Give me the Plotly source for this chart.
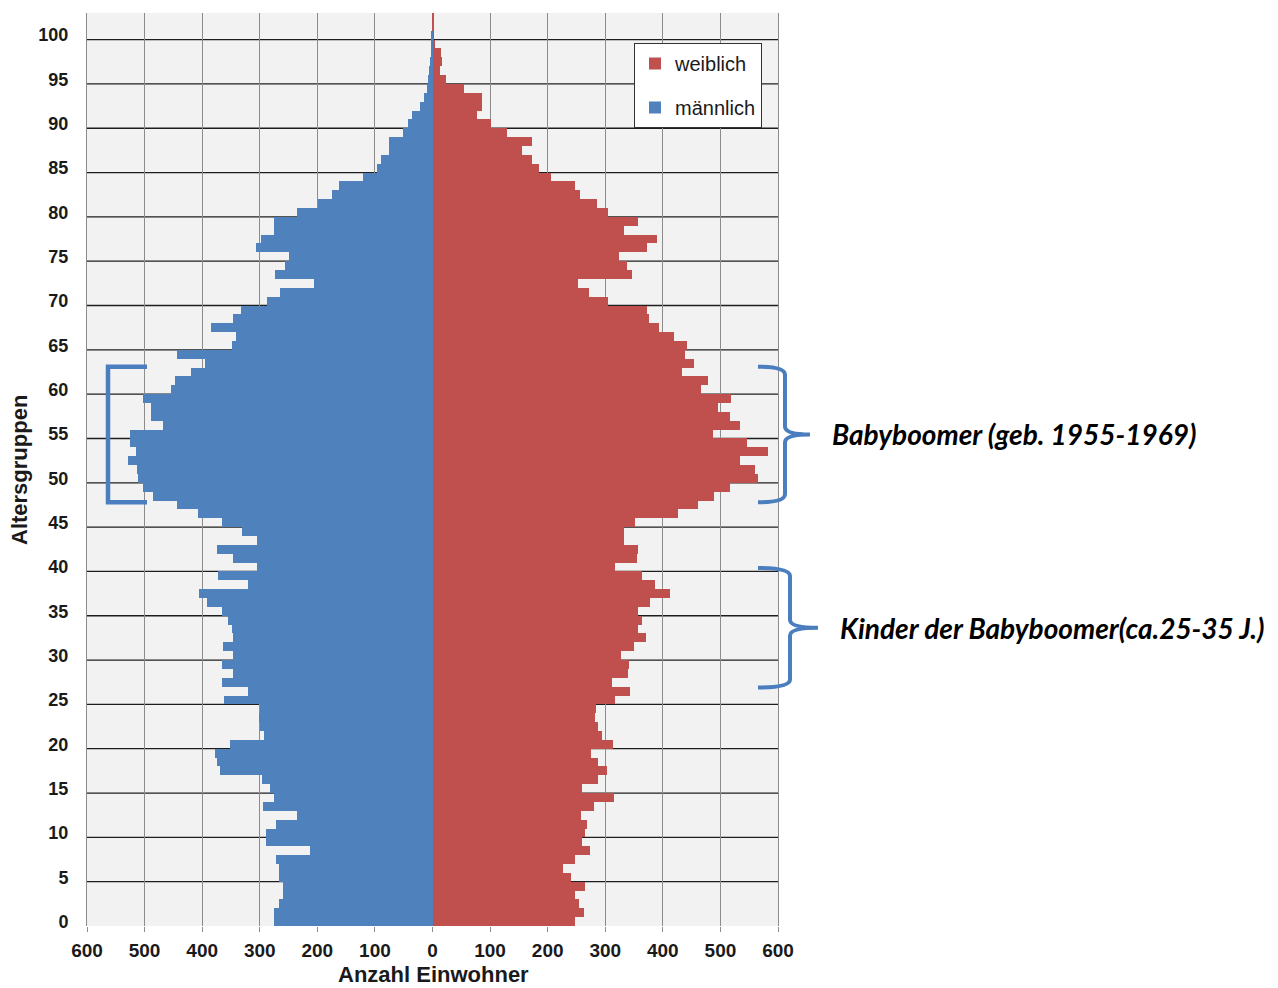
import plotly.graph_objects as go

# ---------------- data ----------------
ages = list(range(0, 103))

male = [276, 276, 266, 259, 259, 266, 266, 271, 212, 290,
        290, 271, 236, 295, 275, 283, 296, 369, 374, 378,
        351, 292, 300, 302, 300, 362, 321, 365, 346, 365,
        346, 364, 346, 349, 356, 365, 391, 405, 320, 373,
        304, 347, 375, 304, 330, 365, 407, 444, 485, 502,
        511, 513, 528, 515, 525, 526, 468, 489, 489, 503,
        455, 448, 419, 395, 443, 349, 342, 385, 346, 332,
        287, 264, 205, 274, 257, 249, 307, 297, 276, 276,
        235, 199, 175, 163, 120, 97, 89, 75, 75, 52,
        42, 36, 21, 15, 10, 7, 6, 4, 3, 1,
        1, 0, 0]

female = [248, 263, 254, 248, 265, 241, 226, 248, 274, 260,
          265, 268, 258, 280, 316, 260, 288, 303, 287, 276,
          314, 295, 287, 282, 284, 317, 343, 312, 339, 341,
          328, 350, 370, 356, 363, 356, 378, 413, 387, 363,
          317, 355, 356, 332, 333, 351, 427, 461, 488, 517,
          566, 560, 534, 583, 547, 487, 534, 517, 496, 519,
          466, 478, 434, 454, 438, 442, 419, 393, 376, 373,
          304, 272, 252, 347, 338, 324, 373, 389, 333, 356,
          304, 285, 256, 248, 206, 185, 173, 155, 173, 130,
          101, 78, 86, 86, 55, 23, 13, 16, 14, 4,
          3, 3, 3]

x_ticks = [-600, -500, -400, -300, -200, -100, 0, 100, 200, 300, 400, 500, 600]
y_ticks = list(range(0, 101, 5))

# annotation brackets: (age from, age to, label)
boomer_span = (47.3, 62.6)
kinder_span = (26.4, 39.9)
boomer_label = "Babyboomer (geb. 1955-1969)"
kinder_label = "Kinder der Babyboomer(ca.25-35 J.)"

BLUE = "#4f81bd"
RED = "#c0504d"
BRACE = "#4a7ebf"

OFF = 8  # page body margin of the html page
W, H = 1278, 988
# plot area in page pixels: x 87..778, y 13..926
L, T = 87 - OFF, 13 - OFF
R = W - (778 - OFF)
B = H - (926 - OFF)
PW, PH = W - L - R, H - T - B
Y0, Y1 = -0.5, 102.5


def py_age(a):
    """age (data) -> page pixel y"""
    return 13 + PH * (Y1 - a) / (Y1 - Y0)


def to_paper(x, y):
    """page pixel -> paper coords"""
    xf, yf = x - OFF, y - OFF
    return (xf - L) / PW, (H - B - yf) / PH


fig = go.Figure()
fig.add_trace(go.Bar(
    y=ages, x=female, orientation="h", name="weiblich",
    marker=dict(color=RED, line=dict(width=0)), width=1.0,
    legendgroup="f", hoverinfo="skip"))
fig.add_trace(go.Bar(
    y=ages, x=[-v for v in male], orientation="h", name="männlich",
    marker=dict(color=BLUE, line=dict(width=0)), width=1.0,
    legendgroup="m", hoverinfo="skip"))

shapes = []
# horizontal black grid lines at the 5-year boundaries
for a in range(5, 101, 5):
    shapes.append(dict(type="line", xref="paper", yref="y", x0=0, x1=1,
                       y0=a - 0.5, y1=a - 0.5, layer="below",
                       line=dict(color="#1e1e1e", width=1.3)))


def path_from(points_cmds):
    out = []
    for cmd, pts in points_cmds:
        coords = []
        for (x, y) in pts:
            px, pyy = to_paper(x, y)
            coords.append(f"{px:.5f},{pyy:.5f}")
        out.append(cmd + " " + " ".join(coords))
    return " ".join(out)


# left square bracket beside babyboomer cohort (male side)
yt, yb = py_age(boomer_span[1]), py_age(boomer_span[0])
xl_in, xl_sp = 147, 108
shapes.append(dict(type="path", xref="paper", yref="paper", layer="above",
                   path=path_from([("M", [(xl_in, yt)]), ("L", [(xl_sp, yt)]),
                                   ("L", [(xl_sp, yb)]), ("L", [(xl_in, yb)])]),
                   line=dict(color=BRACE, width=4.5)))


def curly(yt, yb, xl, xs, xt):
    ym = (yt + yb) / 2
    r = 8
    return path_from([
        ("M", [(xl, yt)]),
        ("Q", [(xs, yt), (xs, yt + r)]),
        ("L", [(xs, ym - r)]),
        ("Q", [(xs, ym), (xt, ym)]),
        ("M", [(xs, ym + r)]),
        ("Q", [(xs, ym), (xt, ym)]),
        ("M", [(xs, ym + r)]),
        ("L", [(xs, yb - r)]),
        ("Q", [(xs, yb), (xl, yb)]),
    ])


for span, xs, xt in [(boomer_span, 785, 810), (kinder_span, 790, 818)]:
    yt, yb = py_age(span[1]), py_age(span[0])
    shapes.append(dict(type="path", xref="paper", yref="paper", layer="above",
                       path=curly(yt, yb, 758, xs, xt),
                       line=dict(color=BRACE, width=4)))

ann_font = dict(family="Lato, Open Sans, sans-serif", size=28, color="black",
                weight="bold", style="italic")
annotations = []
for span, label, xstart in [(boomer_span, boomer_label, 830), (kinder_span, kinder_label, 838)]:
    ym = (py_age(span[1]) + py_age(span[0])) / 2
    px, pyy = to_paper(xstart, ym)
    annotations.append(dict(text=label, xref="paper", yref="paper", x=px, y=pyy,
                            xanchor="left", yanchor="middle", showarrow=False,
                            font=ann_font))

# axis titles
px, pyy = to_paper(433, 974)
annotations.append(dict(text="Anzahl Einwohner", xref="paper", yref="paper",
                        x=px, y=pyy, xanchor="center", yanchor="middle",
                        showarrow=False,
                        font=dict(family="Liberation Sans, Arial", size=22,
                                  color="#1a1a1a", weight="bold")))
px, pyy = to_paper(19, 470)
annotations.append(dict(text="Altersgruppen", xref="paper", yref="paper",
                        x=px, y=pyy, xanchor="center", yanchor="middle",
                        textangle=-90, showarrow=False,
                        font=dict(family="Liberation Sans, Arial",
                                  size=22, color="#1a1a1a", weight="bold")))

lx, ly = to_paper(634, 43)
fig.update_layout(
    width=W, height=H, autosize=False,
    margin=dict(l=L, r=R, t=T, b=B, pad=0),
    paper_bgcolor="white", plot_bgcolor="#f2f2f2",
    barmode="overlay", bargap=0,
    shapes=shapes, annotations=annotations,
    showlegend=True,
    legend=dict(x=lx, y=ly, xanchor="left", yanchor="top",
                bgcolor="white", bordercolor="#333333", borderwidth=1,
                traceorder="grouped", tracegroupgap=15, itemwidth=30,
                font=dict(family="Liberation Sans, Arial", size=20, color="#1a1a1a")),
    font=dict(family="Liberation Sans, Arial", color="#1a1a1a"),
)
fig.update_xaxes(
    range=[-600, 600], tickvals=x_ticks, ticktext=[str(abs(v)) for v in x_ticks],
    showgrid=True, gridcolor="#8c8c8c", gridwidth=1, zeroline=False,
    ticks="outside", ticklen=5, tickcolor="#8c8c8c", tickwidth=1,
    ticklabelstandoff=2,
    tickfont=dict(family="Liberation Sans, Arial", size=19, color="#1a1a1a", weight="bold"),
    showline=False, fixedrange=True)
fig.update_yaxes(
    range=[Y0, Y1], tickvals=y_ticks, ticktext=[str(v) for v in y_ticks],
    showgrid=False, zeroline=False, ticks="", ticklabelstandoff=14,
    showline=True, mirror=True, linecolor="#8c8c8c", linewidth=1,
    tickfont=dict(family="Liberation Sans, Arial", size=18, color="#1a1a1a", weight="bold"),
    fixedrange=True)

fig.write_html("out.html")
